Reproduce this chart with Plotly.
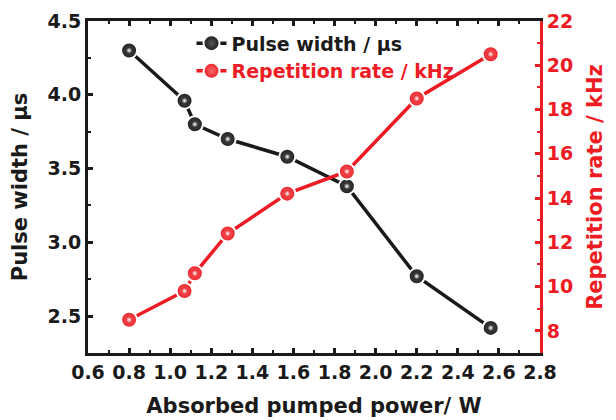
import plotly.graph_objects as go

# Absorbed pump power (W) and the measured Q-switching characteristics
power_w = [0.80, 1.07, 1.12, 1.28, 1.57, 1.86, 2.20, 2.56]
pulse_width_us = [4.30, 3.96, 3.80, 3.70, 3.58, 3.38, 2.77, 2.42]
rep_rate_khz = [8.5, 9.8, 10.6, 12.4, 14.2, 15.2, 18.5, 20.5]

BLACK = "#1a1a1a"
RED = "#ED1C24"
FONT = "DejaVu Sans"


def series(y, name, color, glow, axis):
    """A line with shaded ball markers, plus a small glint on each ball."""
    body = go.Scatter(
        x=power_w, y=y, name=name, yaxis=axis,
        mode="lines+markers",
        line=dict(color=color, width=3.5),
        marker=dict(size=16, color=color, line=dict(color="white", width=2),
                    gradient=dict(type="radial", color=glow)),
    )
    glint = go.Scatter(
        x=power_w, y=y, yaxis=axis, mode="markers", showlegend=False,
        hoverinfo="skip",
        marker=dict(size=7, color=color, line=dict(width=0),
                    gradient=dict(type="radial", color="white")),
    )
    return body, glint


pw_body, pw_glint = series(pulse_width_us, "Pulse width / μs", BLACK, "#555555", "y")
rr_body, rr_glint = series(
    rep_rate_khz, '<span style="color:%s">Repetition rate / kHz</span>' % RED,
    RED, "#f46a6a", "y2")

fig = go.Figure([pw_body, rr_body, pw_glint, rr_glint])

tick_font = dict(family=FONT, size=19, color=BLACK, weight="bold")
title_font = dict(family=FONT, size=21, color=BLACK, weight="bold")

fig.update_layout(
    width=616, height=420,
    margin=dict(l=88, r=76, t=21, b=67),
    paper_bgcolor="white", plot_bgcolor="white",
    font=dict(family=FONT, color=BLACK),
    showlegend=True,
    legend=dict(
        x=0.229, y=0.99, xanchor="left", yanchor="top",
        bgcolor="rgba(0,0,0,0)",
        font=dict(family=FONT, size=19, color=BLACK, weight="bold"),
        tracegroupgap=0,
    ),
    xaxis=dict(
        range=[0.6, 2.8], dtick=0.2, tick0=0.6, tickformat=".1f",
        automargin=False,
        showgrid=False, zeroline=False,
        showline=True, linecolor=BLACK, linewidth=3, mirror="ticks",
        ticks="inside", ticklen=5, tickwidth=2.5, tickcolor=BLACK,
        minor=dict(dtick=0.1, ticks="inside", ticklen=3, tickwidth=2, tickcolor=BLACK),
        tickfont=tick_font,
        title=dict(text="Absorbed pumped power/ W", standoff=17, font=title_font),
    ),
    yaxis=dict(
        range=[2.25, 4.5], dtick=0.5, tick0=2.5, tickformat=".1f",
        automargin=False,
        showgrid=False, zeroline=False,
        showline=True, linecolor=BLACK, linewidth=3,
        ticks="inside", ticklen=5, tickwidth=2.5, tickcolor=BLACK,
        minor=dict(dtick=0.25, ticks="inside", ticklen=3, tickwidth=2, tickcolor=BLACK),
        tickfont=tick_font,
        title=dict(text="Pulse width / μs", standoff=15, font=title_font),
    ),
    yaxis2=dict(
        overlaying="y", side="right",
        range=[7, 22], dtick=2, tick0=8,
        automargin=False,
        showgrid=False, zeroline=False,
        showline=True, linecolor=RED, linewidth=3,
        ticks="inside", ticklen=5, tickwidth=2.5, tickcolor=RED,
        minor=dict(dtick=1, ticks="inside", ticklen=3, tickwidth=2, tickcolor=RED),
        tickfont=dict(tick_font, color=RED),
        title=dict(text="Repetition rate / kHz", standoff=16,
                   font=dict(title_font, color=RED)),
    ),
)

fig.write_html("out.html")
